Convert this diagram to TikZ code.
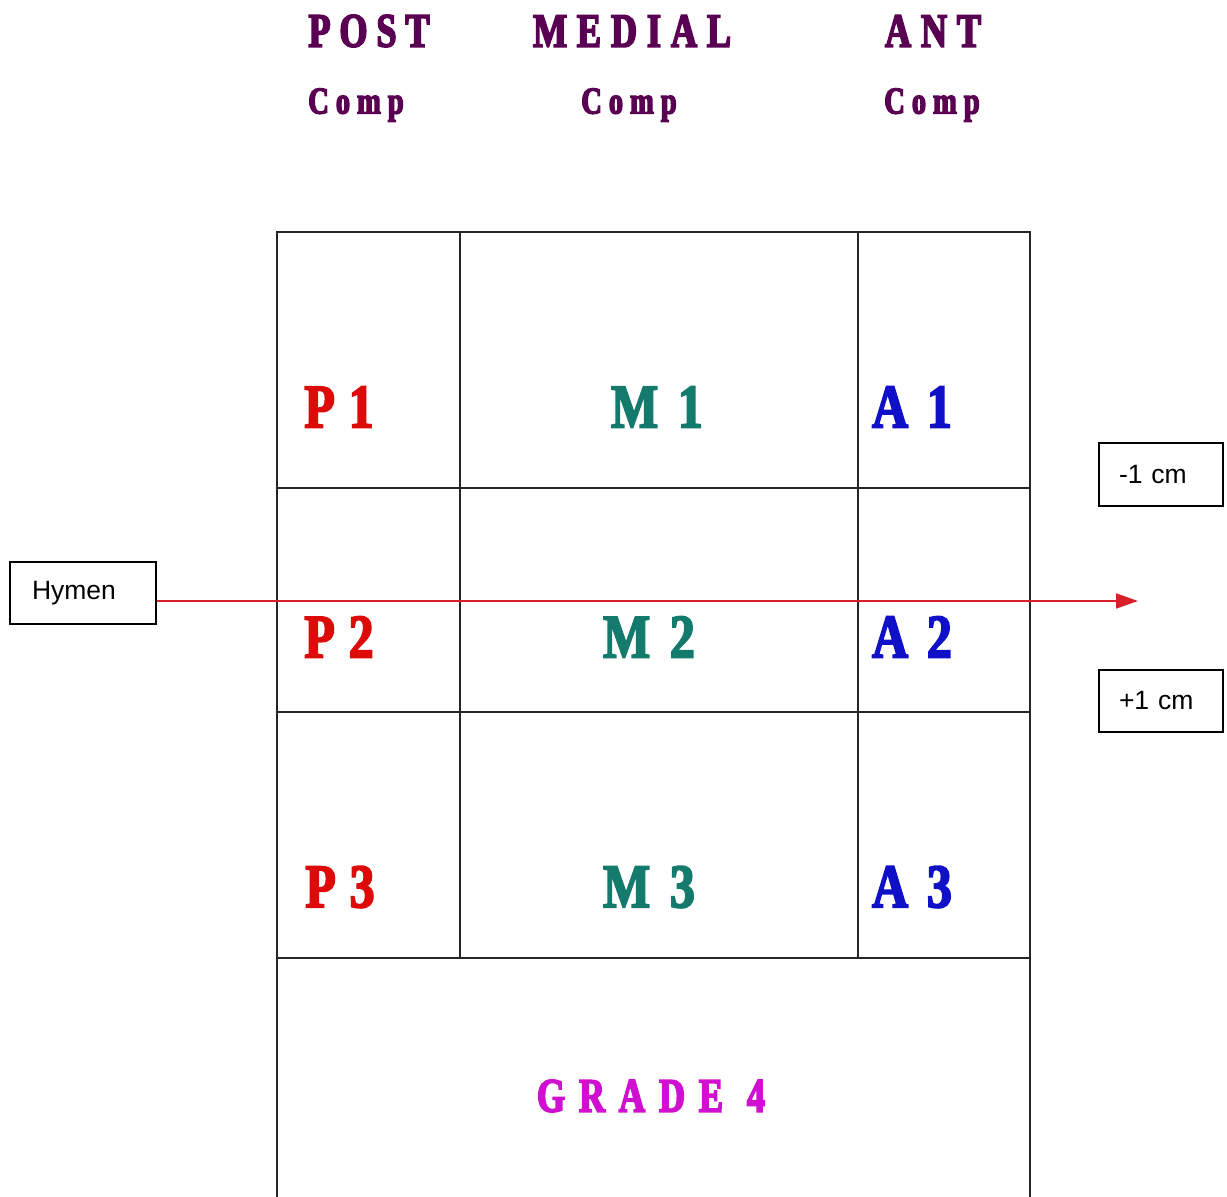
\documentclass[tikz,border=0pt]{standalone}
\usepackage{fontspec}
\setmainfont{Liberation Serif}
\newfontfamily\boxfont{Liberation Sans}
\newfontfamily\heavyfont[FakeStretch=0.75,FakeBold=3.5]{Liberation Serif Bold}
\newfontfamily\cellfont[FakeStretch=0.8,FakeBold=3]{Liberation Serif Bold}
\usetikzlibrary{arrows.meta}
\definecolor{hdcol}{HTML}{5A0052}
\definecolor{pcol}{HTML}{DD0A0A}
\definecolor{mcol}{HTML}{137A6C}
\definecolor{acol}{HTML}{1010C8}
\definecolor{gcol}{HTML}{D010D0}
\definecolor{arrcol}{HTML}{D8202A}
\begin{document}
\begin{tikzpicture}[x=1pt,y=-1pt,
  grid/.style={draw=black!85,line width=1.8pt},
  header/.style={inner sep=0pt,text=hdcol,font=\heavyfont\fontsize{48}{50}\selectfont},
  sub/.style={inner sep=0pt,text=hdcol,font=\heavyfont\fontsize{38}{40}\selectfont},
  cell/.style={inner sep=0pt,font=\cellfont\fontsize{62}{64}\selectfont},
  tagbox/.style={draw=black,line width=1.5pt,minimum width=146pt,minimum height=62pt,inner sep=0pt,font=\boxfont\fontsize{26.5}{28}\selectfont,text=black},
  redarrow/.style={draw=arrcol,line width=1.8pt,-{Triangle[length=22pt,width=15pt]}}]
\useasboundingbox (0,0) rectangle (1227,1197);
\fill[white] (0,0) rectangle (1227,1197);
% grid
\draw[grid] (277,1199) -- (277,232) -- (1030,232) -- (1030,1199);
\draw[grid] (460,232) -- (460,958);
\draw[grid] (858,232) -- (858,958);
\draw[grid] (277,488) -- (1030,488);
\draw[grid] (277,712) -- (1030,712);
\draw[grid] (277,958) -- (1030,958);
% headers
\node[header] (post) at (369,31) {P\kern9pt O\kern9pt S\kern9pt T};
\node[header] (medial) at (632,31) {M\kern10pt E\kern10pt D\kern10pt I\kern10pt A\kern10pt L};
\node[header] (ant) at (933,31) {A\kern10pt N\kern10pt T};
\node[sub] (comp1) at (356,105) {C\kern7pt o\kern7pt m\kern7pt p};
\node[sub] (comp2) at (629,105) {C\kern7pt o\kern7pt m\kern7pt p};
\node[sub] (comp3) at (932,105) {C\kern7pt o\kern7pt m\kern7pt p};
% cells
\node[cell,text=pcol] (p1) at (339,407) {P\kern14pt 1};
\node[cell,text=mcol] (m1) at (657,407) {M\kern20pt 1};
\node[cell,text=acol] (a1) at (912,407) {A\kern19pt 1};
\node[cell,text=pcol] (p2) at (339,637) {P\kern14pt 2};
\node[cell,text=mcol] (m2) at (649,637) {M\kern20pt 2};
\node[cell,text=acol] (a2) at (912,637) {A\kern19pt 2};
\node[cell,text=pcol] (p3) at (340,887) {P\kern14pt 3};
\node[cell,text=mcol] (m3) at (649,887) {M\kern20pt 3};
\node[cell,text=acol] (a3) at (912,887) {A\kern19pt 3};
\node[header,text=gcol] (grade) at (651,1096) {G\kern14pt R\kern14pt A\kern14pt D\kern14pt E\kern24pt 4};
% side boxes
\node[tagbox,minimum width=146pt,text width=102pt,align=left] (hymen) at (83,593) {Hymen};
\node[tagbox,minimum width=124pt,minimum height=63pt,text width=84pt,align=left] (minus) at (1161,474.5) {-1 cm};
\node[tagbox,minimum width=124pt,minimum height=62pt,text width=84pt,align=left] (plus) at (1161,701) {+1 cm};
\coordinate (arrend) at (1138,601);
\draw[redarrow] (hymen.east |- arrend) -- (arrend);
\end{tikzpicture}
\end{document}
